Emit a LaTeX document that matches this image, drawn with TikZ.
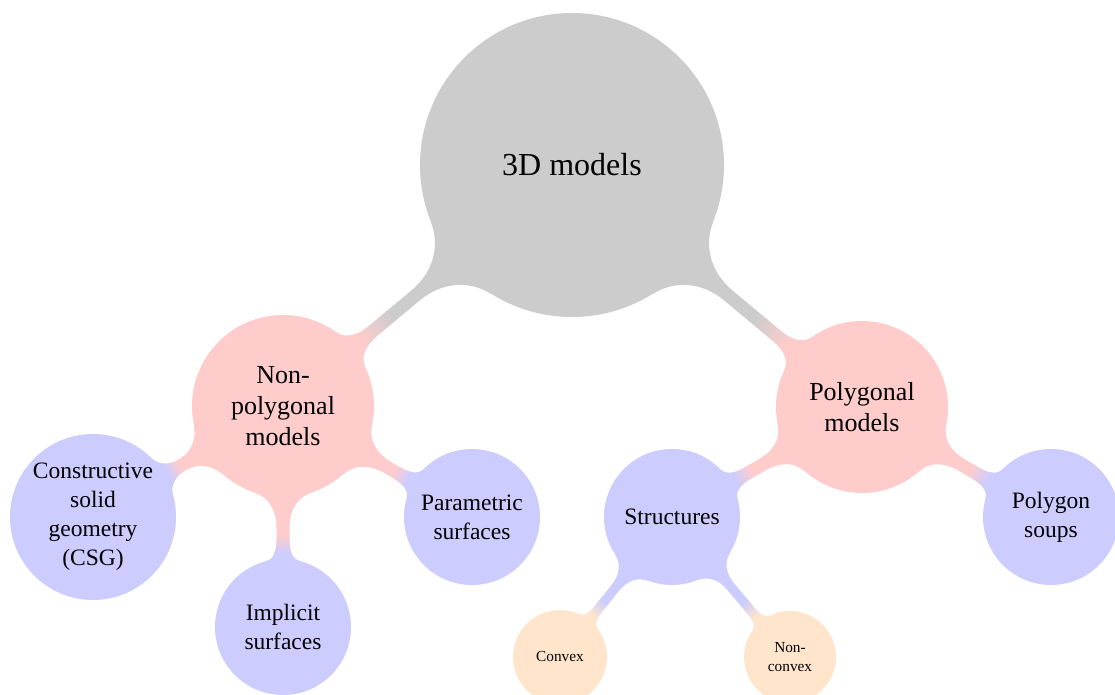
\documentclass[tikz,border=0pt]{standalone}
\usepackage{fontspec}
\setmainfont{Liberation Serif}
\usetikzlibrary{backgrounds}
\colorlet{cGray}{black!20}
\colorlet{cRed}{red!20}
\colorlet{cBlue}{blue!20}
\colorlet{cOrange}{orange!20}
% #1 parent node, #2 child node, #3 half width of bar, #4 parent colour, #5 child colour
\newcommand\mmconn[5]{%
  \pgfmathanglebetweenpoints{\pgfpointanchor{#1}{center}}{\pgfpointanchor{#2}{center}}%
  \let\mmang\pgfmathresult
  \pgfpointdiff{\pgfpointanchor{#1}{center}}{\pgfpointanchor{#2}{center}}%
  \pgfgetlastxy{\mmdx}{\mmdy}%
  \pgfmathsetmacro\mmd{veclen(\mmdx,\mmdy)}%
  \pgfpointdiff{\pgfpointanchor{#1}{center}}{\pgfpointanchor{#1}{east}}%
  \pgfgetlastxy{\mmrax}{\mmray}%
  \pgfmathsetmacro\mmra{\mmrax}%
  \pgfpointdiff{\pgfpointanchor{#2}{center}}{\pgfpointanchor{#2}{east}}%
  \pgfgetlastxy{\mmrbx}{\mmrby}%
  \pgfmathsetmacro\mmrb{\mmrbx}%
  \pgfmathsetmacro\mmgap{\mmd-\mmra-\mmrb}%
  \pgfmathsetmacro\mmf{min(1,0.9*\mmgap/(0.34*\mmra+0.28*\mmrb))}%
  % parent fillet
  \pgfmathsetmacro\pax{\mmra*cos(18)}\pgfmathsetmacro\pay{\mmra*sin(18)}%
  \pgfmathsetmacro\cax{\pax+0.16*\mmra*\mmf*sin(18)}\pgfmathsetmacro\cay{\pay-0.16*\mmra*\mmf*cos(18)}%
  \pgfmathsetmacro\eax{\mmra+0.34*\mmra*\mmf}%
  \pgfmathsetmacro\dax{\eax-0.2*\mmra*\mmf}%
  % child fillet
  \pgfmathsetmacro\pbx{\mmd-\mmrb*cos(14)}\pgfmathsetmacro\pby{\mmrb*sin(14)}%
  \pgfmathsetmacro\cbx{\pbx-0.11*\mmrb*\mmf*sin(14)}\pgfmathsetmacro\cby{\pby-0.11*\mmrb*\mmf*cos(14)}%
  \pgfmathsetmacro\ebx{\mmd-\mmrb-0.28*\mmrb*\mmf}%
  \pgfmathsetmacro\dbx{\ebx+0.16*\mmrb*\mmf}%
  % colour switch
  \pgfmathsetmacro\swa{\mmra+0.62*\mmgap}%
  \pgfmathsetmacro\swb{\mmra+0.92*\mmgap}%
  \pgfmathsetmacro\sws{(\swb-\swa)/12}%
  \begin{scope}[shift={(#1.center)}, rotate=\mmang]
    \clip (0,0) -- (\pax,\pay) .. controls (\cax,\cay) and (\dax,#3) .. (\eax,#3)
      -- (\ebx,#3) .. controls (\dbx,#3) and (\cbx,\cby) .. (\pbx,\pby)
      -- (\mmd,0) -- (\pbx,-\pby) .. controls (\cbx,-\cby) and (\dbx,-#3) .. (\ebx,-#3)
      -- (\eax,-#3) .. controls (\dax,-#3) and (\cax,-\cay) .. (\pax,-\pay) -- cycle;
    \fill[#4] (-5,-200) rectangle (\swa+0.5,200);
    \foreach \mmi in {0,...,11}{%
      \pgfmathtruncatemacro\mmpct{(\mmi+0.5)/12*100}%
      \fill[#5!\mmpct!#4] (\swa+\mmi*\sws,-200) rectangle (\swa+\mmi*\sws+\sws+0.5,200);
    }
    \fill[#5] (\swb,-200) rectangle (\mmd+5,200);
  \end{scope}
}
\begin{document}
\begin{tikzpicture}[x=1pt,y=-1pt,
  cpt/.style={circle, inner sep=0pt, align=center, text=black},
  rootc/.style={cpt, fill=cGray, minimum size=304pt, font=\fontsize{32}{38}\selectfont},
  lvla/.style={cpt, fill=cRed, font=\fontsize{26}{31}\selectfont},
  lvlb/.style={cpt, fill=cBlue, font=\fontsize{23.5}{29}\selectfont},
  lvlc/.style={cpt, fill=cOrange, font=\fontsize{15.3}{18.6}\selectfont},
]
\useasboundingbox (0,0) rectangle (1115,695);
\node[rootc] (root) at (572,165) {3D models};
\node[lvla, minimum size=182pt] (np) at (283,406) {Non-\\polygonal\\models};
\node[lvla, minimum size=172pt] (poly) at (862,407) {Polygonal\\models};
\node[lvlb, minimum size=166pt] (csg) at (93,517) {Constructive\\solid\\geometry\\(CSG)};
\node[lvlb, minimum size=136pt] (impl) at (283,627) {Implicit\\surfaces};
\node[lvlb, minimum size=136pt] (param) at (472,517) {Parametric\\surfaces};
\node[lvlb, minimum size=136pt] (struct) at (672,517) {Structures};
\node[lvlb, minimum size=136pt] (soups) at (1051,517) {Polygon\\soups};
\node[lvlc, minimum size=94pt] (convex) at (560,657) {Convex};
\node[lvlc, minimum size=92pt] (nconvex) at (790,657) {Non-\\convex};
\begin{pgfonlayer}{background}
\mmconn{root}{np}{6.5}{cGray}{cRed}
\mmconn{root}{poly}{6.5}{cGray}{cRed}
\mmconn{np}{csg}{6.5}{cRed}{cBlue}
\mmconn{np}{impl}{6.5}{cRed}{cBlue}
\mmconn{np}{param}{6.5}{cRed}{cBlue}
\mmconn{poly}{struct}{6.5}{cRed}{cBlue}
\mmconn{poly}{soups}{6.5}{cRed}{cBlue}
\mmconn{struct}{convex}{4.7}{cBlue}{cOrange}
\mmconn{struct}{nconvex}{4.7}{cBlue}{cOrange}
\end{pgfonlayer}
\end{tikzpicture}
\end{document}
